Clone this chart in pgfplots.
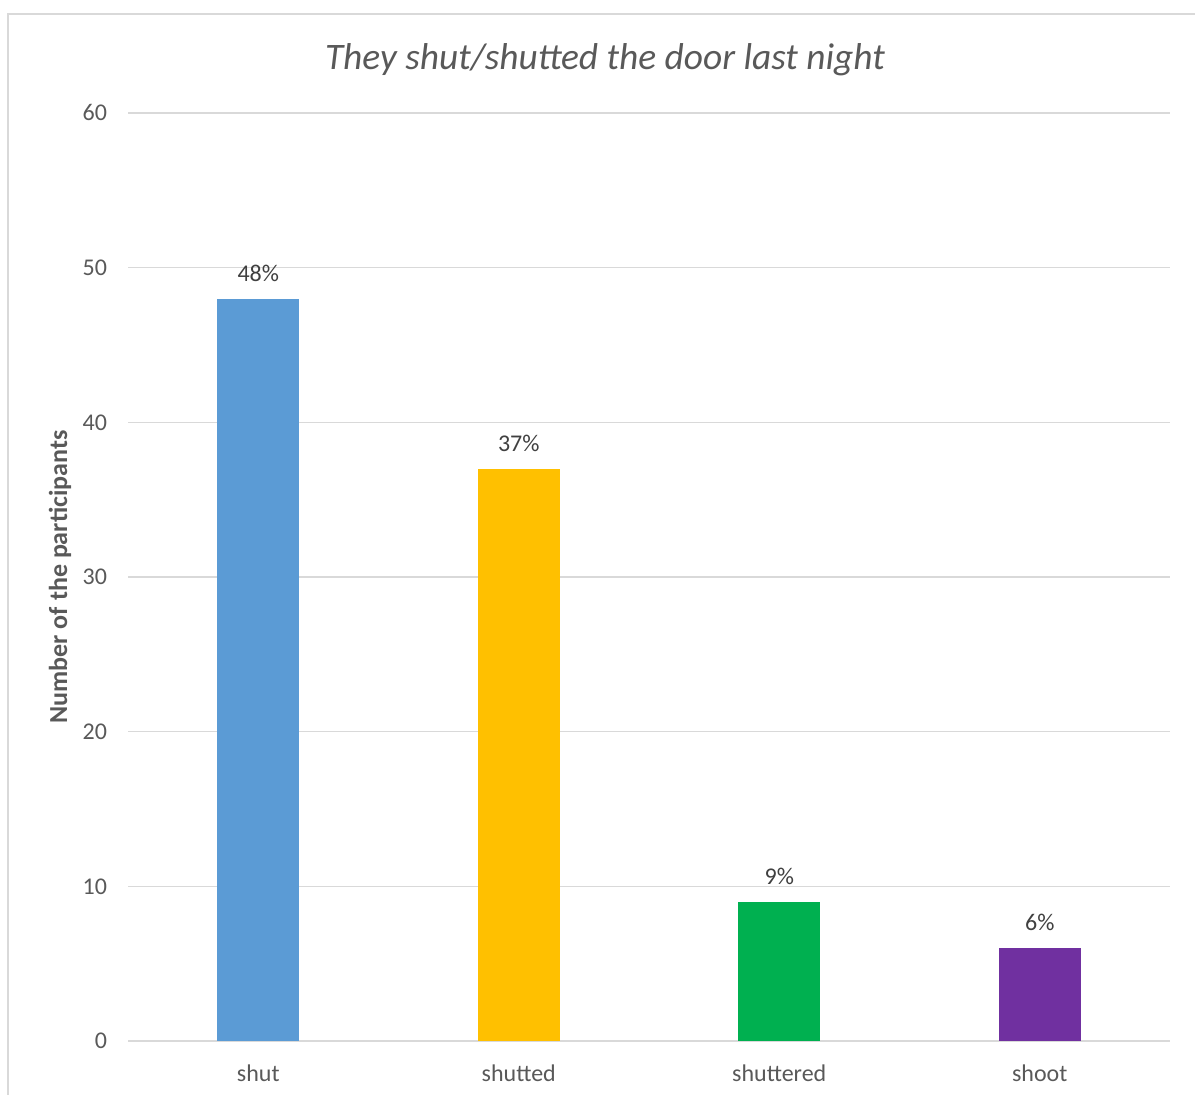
\documentclass[border=0pt]{standalone}
\usepackage{pgfplots}
\pgfplotsset{compat=1.18}
\usepackage{fontspec}
\setmainfont{Carlito}
\definecolor{gridgray}{HTML}{D9D9D9}
\definecolor{txtgray}{HTML}{595959}
\definecolor{lblgray}{HTML}{404040}
\definecolor{cshut}{HTML}{5B9BD5}
\definecolor{cshutted}{HTML}{FFC000}
\definecolor{cshuttered}{HTML}{00B050}
\definecolor{cshoot}{HTML}{7030A0}
\begin{document}
\begin{tikzpicture}
\useasboundingbox (0,0) rectangle (597.5pt,547.5pt);
% chart frame (left and top edges)
\draw[gridgray, line width=0.9pt] (4pt,0) -- (4pt,540.5pt) -- (597.5pt,540.5pt);
% the data origin (first category, y=0) sits one half category in from the plot's left edge
\begin{axis}[
  at={(129.125pt,27pt)}, anchor=origin,
  scale only axis, width=521pt, height=464pt,
  xmin=-0.5, xmax=3.5, ymin=0, ymax=60,
  ytick={0,10,...,60},
  xtick={0,1,2,3},
  xticklabels={shut,shutted,shuttered,shoot},
  axis line style={draw=none},
  tick style={draw=none},
  ymajorgrids, grid style={gridgray, line width=0.75pt},
  /pgf/number format/assume math mode=true,
  ticklabel style={font=\fontsize{12}{14}\selectfont, text=txtgray},
  yticklabel style={xshift=-7pt},
  xticklabel style={yshift=-4pt},
  ylabel={Number of the participants},
  ylabel style={at={(axis description cs:0,0.5)}, anchor=center, yshift=34pt,
    font=\bfseries\fontsize{13}{15}\selectfont, text=txtgray},
  ybar, bar width=41pt, bar shift=0pt,
  nodes near coords={\pgfmathprintnumber{\pgfplotspointmeta}\%},
  nodes near coords style={font=\fontsize{12}{14}\selectfont, text=lblgray, yshift=5pt},
  clip=false,
]
\addplot[fill=cshut, draw=none] coordinates {(0,48)};
\addplot[fill=cshutted, draw=none] coordinates {(1,37)};
\addplot[fill=cshuttered, draw=none] coordinates {(2,9)};
\addplot[fill=cshoot, draw=none] coordinates {(3,6)};
\end{axis}
\node[font=\itshape\fontsize{18.7}{22}\selectfont, text=txtgray] at (302.5pt,517.5pt)
  {They shut/shutted the door last night};
\end{tikzpicture}
\end{document}
